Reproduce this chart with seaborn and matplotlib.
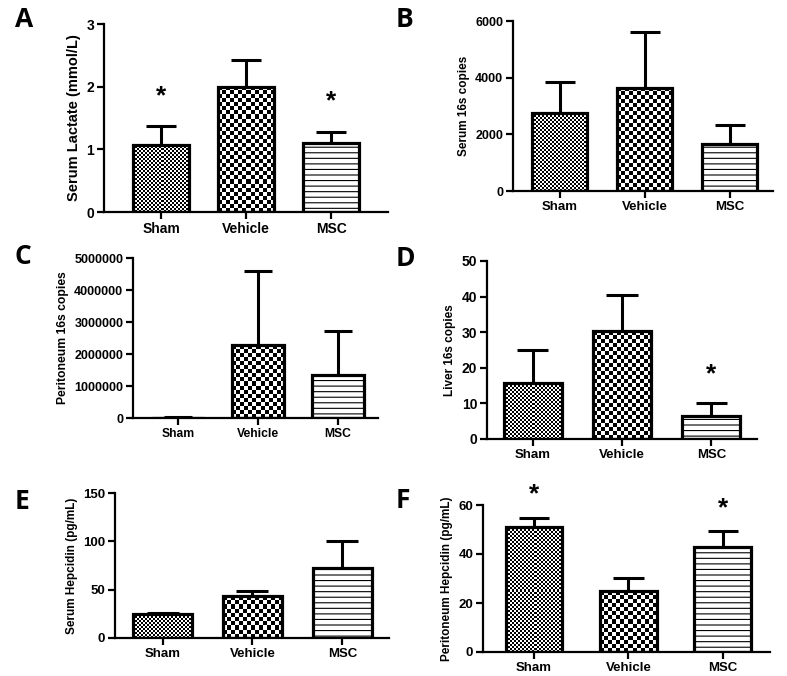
import numpy as np
import matplotlib
matplotlib.use("Agg")
import matplotlib.pyplot as plt
import seaborn as sns

sns.set_style("ticks")
plt.rcParams["font.family"] = ["Liberation Sans", "DejaVu Sans"]
plt.rcParams["font.weight"] = "bold"
plt.rcParams["hatch.linewidth"] = 0.8
for key in ["axes.edgecolor", "text.color", "axes.labelcolor", "xtick.color", "ytick.color"]:
    plt.rcParams[key] = "black"

# data (mean and upper SEM length)
groups = ["Sham", "Vehicle", "MSC"]

lactate_mean = [1.07, 2.0, 1.1]
lactate_err = [0.30, 0.42, 0.17]
lactate_star = [1.85, None, 1.77]

serum16s_mean = [2750, 3650, 1650]
serum16s_err = [1100, 1970, 670]

perit16s_mean = [15000, 2280000, 1350000]
perit16s_err = [15000, 2320000, 1380000]

liver16s_mean = [15.7, 30.2, 6.4]
liver16s_err = [9.2, 10.2, 3.6]
liver16s_star = [None, None, 18.3]

serumhep_mean = [24.5, 43.0, 72.0]
serumhep_err = [1.0, 6.0, 28.0]

perithep_mean = [51.0, 24.7, 42.8]
perithep_err = [3.5, 5.5, 6.5]
perithep_star = [64.5, None, 58.8]

W, H = 787, 676
fig = plt.figure(figsize=(W / 100, H / 100), dpi=100)


def px_axes(left, top, right, bottom):
    return fig.add_axes([left / W, 1 - bottom / H, (right - left) / W, (bottom - top) / H])


def checker_fill(ax, patch, cell_px):
    bb = patch.get_bbox()
    (x0, y0), (x1, y1) = ax.transData.transform([(bb.x0, bb.y0), (bb.x1, bb.y1)])
    nx = max(1, int(round((x1 - x0) / cell_px)))
    ny = max(1, int(round((y1 - y0) / cell_px)))
    grid = (np.add.outer(np.arange(ny), np.arange(nx)) % 2).astype(float)
    im = ax.imshow(grid, cmap="gray", vmin=0, vmax=1, extent=(bb.x0, bb.x1, bb.y0, bb.y1),
                   aspect="auto", interpolation="nearest", zorder=2)
    im.set_clip_path(patch)


def panel(ax, means, errs, yticks, ylabel, letter, xlim, width,
          stars=None, ylab_size=8.5, tick_size=9, xtick_size=9.5, letter_xy=(0, 0)):
    sns.barplot(x=groups, y=means, ax=ax, color="white", edgecolor="black",
                linewidth=2.3, width=width, errorbar=None, saturation=1)
    ylim = (yticks[0], yticks[-1])
    ax.set_xlim(*xlim)
    ax.set_ylim(*ylim)
    for i, p in enumerate(ax.patches):
        p.set_zorder(3)
        p.set_facecolor("none")
        if i == 0:
            checker_fill(ax, p, 2)
        elif i == 1:
            checker_fill(ax, p, 4)
        else:
            p.set_hatch("---")
        xc = p.get_x() + p.get_width() / 2
        top = means[i] + errs[i]
        cap = p.get_width() * 0.27
        ax.vlines(xc, means[i], top, color="black", lw=2.2, zorder=1.5)
        ax.hlines(top, xc - cap, xc + cap, color="black", lw=2.2, zorder=1.5)
        if stars is not None and stars[i] is not None:
            ax.text(xc, stars[i], "*", ha="center", va="center", fontsize=19,
                    fontweight="bold", clip_on=False)
    ax.set_xlim(*xlim)
    ax.set_ylim(*ylim)
    ax.set_yticks(yticks)
    ax.set_yticklabels([str(t) for t in yticks], fontsize=tick_size, fontweight="bold")
    ax.set_xticks(range(len(groups)))
    ax.set_xticklabels(groups, fontsize=xtick_size, fontweight="bold")
    ax.set_ylabel(ylabel, fontsize=ylab_size, fontweight="bold")
    ax.set_xlabel("")
    sns.despine(ax=ax)
    for s in ["left", "bottom"]:
        ax.spines[s].set_linewidth(1.6)
    ax.tick_params(axis="both", width=1.6, length=5, pad=2)
    fig.text(letter_xy[0] / W, 1 - letter_xy[1] / H, letter, fontsize=19,
             fontweight="bold", ha="left", va="top", family=["Open Sans", "DejaVu Sans"])


axA = px_axes(104, 24, 388, 212)
panel(axA, lactate_mean, lactate_err, [0, 1, 2, 3], "Serum Lactate (mmol/L)", "A",
      (-0.67, 2.67), 0.66, stars=lactate_star, ylab_size=10.5, tick_size=10,
      xtick_size=10, letter_xy=(15, 6))

axB = px_axes(513, 21, 773, 191)
panel(axB, serum16s_mean, serum16s_err, [0, 2000, 4000, 6000], "Serum 16s copies", "B",
      (-0.55, 2.51), 0.65, ylab_size=8.5, tick_size=9, xtick_size=9.5, letter_xy=(396, 6))

axC = px_axes(133, 258, 378, 418)
panel(axC, perit16s_mean, perit16s_err, [0, 1000000, 2000000, 3000000, 4000000, 5000000],
      "Peritoneum 16s copies", "C", (-0.56, 2.5), 0.65, ylab_size=8.7, tick_size=9,
      xtick_size=8.7, letter_xy=(15, 243))

axD = px_axes(487, 261, 757, 439)
panel(axD, liver16s_mean, liver16s_err, [0, 10, 20, 30, 40, 50], "Liver 16s copies", "D",
      (-0.51, 2.51), 0.65, stars=liver16s_star, ylab_size=8.5, tick_size=10,
      xtick_size=9.5, letter_xy=(396, 245))

axE = px_axes(115, 493, 389, 638)
panel(axE, serumhep_mean, serumhep_err, [0, 50, 100, 150], "Serum Hepcidin (pg/mL)", "E",
      (-0.53, 2.52), 0.66, ylab_size=8.5, tick_size=9.5, xtick_size=9.5, letter_xy=(15, 488))

axF = px_axes(483, 505, 770, 652)
panel(axF, perithep_mean, perithep_err, [0, 20, 40, 60], "Peritoneum Hepcidin (pg/mL)", "F",
      (-0.54, 2.5), 0.6, stars=perithep_star, ylab_size=8.5, tick_size=9.5,
      xtick_size=9.5, letter_xy=(396, 487))

fig.savefig("out.png", dpi=100)
